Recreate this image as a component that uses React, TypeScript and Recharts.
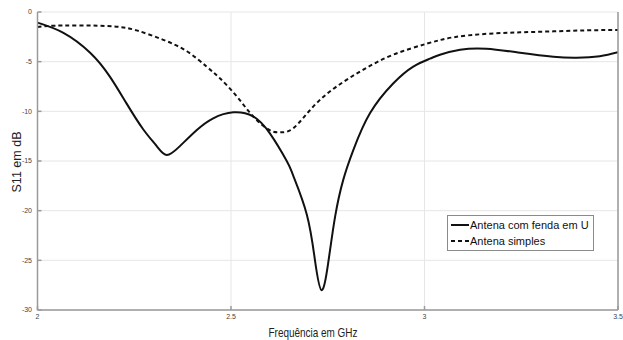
import { CartesianGrid, Label, Legend, Line, LineChart, XAxis, YAxis } from 'recharts';

// frequency (GHz) / S11 (dB)
const slotFreq = [
  2.0, 2.067, 2.136, 2.187, 2.23, 2.273, 2.308, 2.334, 2.368, 2.411, 2.454, 2.506, 2.557, 2.6,
  2.644, 2.661, 2.696, 2.717, 2.734, 2.751, 2.769, 2.79, 2.816, 2.859, 2.919, 2.971, 3.014, 3.04,
  3.092, 3.16, 3.247, 3.333, 3.393, 3.453, 3.5,
];
const slotDb = [
  -1.07, -2.1, -4.1, -6.5, -9.2, -11.8, -13.5, -14.4, -13.5, -11.9, -10.7, -10.1, -10.5, -12.2,
  -15.0, -16.5, -20.4, -25.0, -28.0, -25.3, -20.6, -16.9, -13.9, -10.2, -7.2, -5.5, -4.7, -4.3,
  -3.8, -3.7, -4.1, -4.5, -4.6, -4.45, -4.05,
];

const simpleFreq = [
  2.0, 2.03, 2.11, 2.196, 2.256, 2.325, 2.386, 2.437, 2.472, 2.515, 2.557, 2.6, 2.627, 2.661,
  2.713, 2.773, 2.842, 2.919, 3.005, 3.074, 3.16, 3.247, 3.333, 3.418, 3.5,
];
const simpleDb = [
  -1.5, -1.4, -1.35, -1.45, -1.85, -2.8, -3.95, -5.5, -6.7, -8.5, -10.5, -11.9, -12.1, -11.7,
  -9.5, -7.5, -5.8, -4.3, -3.2, -2.55, -2.2, -2.05, -1.95, -1.85, -1.8,
];

const xTicks = [2, 2.5, 3, 3.5];
const yTicks = [0, -5, -10, -15, -20, -25, -30];

const seriesNames = ['Antena com fenda em U', 'Antena simples'];

const zip = (fs: number[], ds: number[]) => fs.map((f, i) => ({ f, db: ds[i] }));

const slotData = zip(slotFreq, slotDb);
const simpleData = zip(simpleFreq, simpleDb);

const AXIS = '#9a9a9a';
const GRID = '#e6e6e6';
const TICK = { fontSize: 7, fill: '#444' };

function LegendBox() {
  const rows = [
    { name: seriesNames[0], dash: undefined },
    { name: seriesNames[1], dash: '4 3' },
  ];
  return (
    <div
      style={{
        border: '1px solid #8a8a8a',
        background: '#fff',
        padding: '1px 4px 1px 3px',
        fontSize: 11,
        lineHeight: '16px',
        color: '#111',
      }}
    >
      {rows.map((r) => (
        <div key={r.name} style={{ display: 'flex', alignItems: 'center' }}>
          <svg width={18} height={10} style={{ marginRight: 1 }}>
            <line x1={0} x2={18} y1={5} y2={5} stroke="#111" strokeWidth={2} strokeDasharray={r.dash} />
          </svg>
          <span>{r.name}</span>
        </div>
      ))}
    </div>
  );
}

export default function App() {
  return (
    <div style={{ position: 'absolute', left: 0, top: 0, background: '#fff' }}>
      <LineChart
        width={623}
        height={340}
        margin={{ top: 12, right: 0, bottom: 0, left: 0 }}
        style={{ fontFamily: '"Liberation Sans", Arial, sans-serif' }}
      >
        <CartesianGrid stroke={GRID} strokeWidth={1} />
        <XAxis
          dataKey="f"
          type="number"
          domain={[2, 3.5]}
          ticks={xTicks}
          allowDataOverflow
          height={30}
          stroke={AXIS}
          strokeWidth={1.5}
          tick={TICK}
          tickSize={-4}
          tickMargin={8}
        >
          <Label
            content={() => (
              <text
                x={313}
                y={337}
                fontSize={13}
                fill="#222"
                textAnchor="middle"
                textLength={89}
                lengthAdjust="spacingAndGlyphs"
              >
                Frequência em GHz
              </text>
            )}
          />
        </XAxis>
        <XAxis
          xAxisId="top"
          orientation="top"
          type="number"
          domain={[2, 3.5]}
          ticks={xTicks}
          height={0}
          stroke={AXIS}
          strokeWidth={1.5}
          tick={false}
        />
        <YAxis
          type="number"
          domain={[-30, 0]}
          ticks={yTicks}
          allowDataOverflow
          width={37.5}
          stroke={AXIS}
          strokeWidth={1.5}
          tick={TICK}
          tickSize={-4}
          tickMargin={9.5}
        >
          <Label
            content={() => (
              <text
                x={17}
                y={162}
                fontSize={12}
                fill="#222"
                textAnchor="middle"
                dominantBaseline="central"
                transform="rotate(-90 17 162)"
                textLength={61}
                lengthAdjust="spacingAndGlyphs"
              >
                S11 em dB
              </text>
            )}
          />
        </YAxis>
        <YAxis
          yAxisId="right"
          orientation="right"
          type="number"
          domain={[-30, 0]}
          ticks={yTicks}
          width={5}
          stroke={AXIS}
          strokeWidth={1.5}
          tick={false}
        />
        <Legend
          layout="horizontal"
          verticalAlign="middle"
          align="center"
          content={() => <LegendBox />}
          wrapperStyle={{ position: 'absolute', left: 447, top: 215, width: 'auto' }}
        />
        <Line
          data={slotData}
          dataKey="db"
          name={seriesNames[0]}
          type="natural"
          stroke="#111"
          strokeWidth={2}
          dot={false}
          isAnimationActive={false}
        />
        <Line
          data={simpleData}
          dataKey="db"
          name={seriesNames[1]}
          type="natural"
          stroke="#111"
          strokeWidth={2}
          strokeDasharray="4 3"
          dot={false}
          isAnimationActive={false}
        />
      </LineChart>
    </div>
  );
}
